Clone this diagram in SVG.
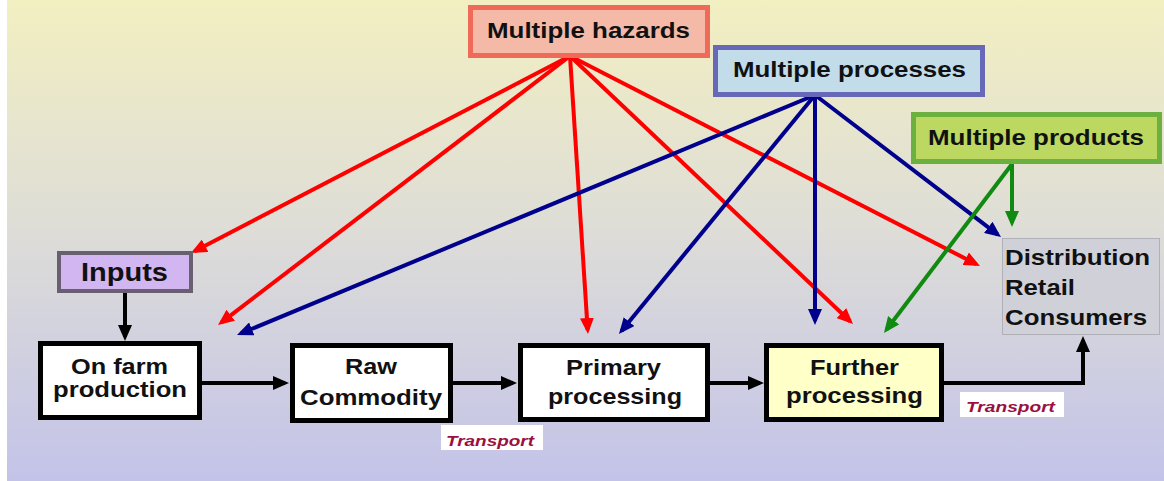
<svg xmlns="http://www.w3.org/2000/svg" width="1164" height="481" viewBox="0 0 1164 481">
  <defs>
    <linearGradient id="bg" x1="0" y1="0" x2="0" y2="1">
      <stop offset="0" stop-color="#f2efc1"/>
      <stop offset="0.45" stop-color="#dfded6"/>
      <stop offset="1" stop-color="#c3c3e9"/>
    </linearGradient>
    <marker id="ah-red" markerUnits="userSpaceOnUse" markerWidth="16" markerHeight="14" refX="12" refY="7" orient="auto">
      <path d="M0,0 L16,7 L0,14 z" fill="#ff0000"/>
    </marker>
    <marker id="ah-blue" markerUnits="userSpaceOnUse" markerWidth="16" markerHeight="14" refX="12" refY="7" orient="auto">
      <path d="M0,0 L16,7 L0,14 z" fill="#00008c"/>
    </marker>
    <marker id="ah-green" markerUnits="userSpaceOnUse" markerWidth="16" markerHeight="14" refX="12" refY="7" orient="auto">
      <path d="M0,0 L16,7 L0,14 z" fill="#108a10"/>
    </marker>
    <marker id="ah-black" markerUnits="userSpaceOnUse" markerWidth="16" markerHeight="14" refX="12" refY="7" orient="auto">
      <path d="M0,0 L16,7 L0,14 z" fill="#000000"/>
    </marker>
  </defs>
  <style>
    text { font-family: "Liberation Sans", Arial, sans-serif; font-weight: bold; fill: #111111; }
    .lbl { font-size: 22px; }
    .step { fill: #ffffff; stroke: #000000; stroke-width: 5; }
    .red { stroke: #ff0000; stroke-width: 4; fill: none; marker-end: url(#ah-red); }
    .blue { stroke: #00008c; stroke-width: 4; fill: none; marker-end: url(#ah-blue); }
    .green { stroke: #108a10; stroke-width: 4; fill: none; marker-end: url(#ah-green); }
    .flow { stroke: #000000; stroke-width: 4; fill: none; marker-end: url(#ah-black); }
    .transport { font-size: 15px; font-style: italic; fill: #9a1040; }
  </style>

  <!-- backdrop -->
  <rect x="0" y="0" width="1164" height="481" fill="#ffffff"/>
  <rect x="7" y="0" width="1157" height="481" fill="url(#bg)"/>

  <!-- connectors -->
  <g id="connectors">
    <!-- hazards -->
    <line class="red" x1="570" y1="56" x2="194.5" y2="251.2"/>
    <line class="red" x1="570" y1="56" x2="221.2" y2="322.6"/>
    <line class="red" x1="570" y1="56" x2="587.7" y2="330"/>
    <line class="red" x1="570" y1="56" x2="850.1" y2="321.3"/>
    <line class="red" x1="570" y1="56" x2="976.4" y2="264.2"/>
    <!-- processes -->
    <line class="blue" x1="815" y1="95" x2="240.7" y2="333.5"/>
    <line class="blue" x1="815" y1="95" x2="621.5" y2="330.9"/>
    <line class="blue" x1="815" y1="95" x2="815" y2="321"/>
    <line class="blue" x1="815" y1="95" x2="997.8" y2="234.6"/>
    <!-- products -->
    <line class="green" x1="1012" y1="164" x2="1012" y2="223"/>
    <line class="green" x1="1012" y1="164" x2="886.4" y2="329.8"/>
    <!-- chain -->
    <line class="flow" x1="125" y1="293" x2="125" y2="337"/>
    <line class="flow" x1="202" y1="383" x2="285" y2="383"/>
    <line class="flow" x1="453" y1="383" x2="513" y2="383"/>
    <line class="flow" x1="710" y1="383" x2="760" y2="383"/>
    <polyline class="flow" points="944,383 1083,383 1083,340"/>
  </g>

  <g id="hazards">
    <rect x="470.5" y="7.5" width="237" height="48" fill="#f5b9a8" stroke="#f06a5a" stroke-width="5"/>
    <text class="lbl" x="487" y="38" textLength="203" lengthAdjust="spacingAndGlyphs">Multiple hazards</text>
  </g>
  <g id="processes">
    <rect x="715.5" y="47.5" width="267" height="47" fill="#c2dcea" stroke="#6868b8" stroke-width="5"/>
    <text class="lbl" x="733" y="77" textLength="233" lengthAdjust="spacingAndGlyphs">Multiple processes</text>
  </g>
  <g id="products">
    <rect x="913.5" y="114.5" width="246" height="47" fill="#bcd860" stroke="#6cb040" stroke-width="5"/>
    <text class="lbl" x="928" y="145" textLength="216" lengthAdjust="spacingAndGlyphs">Multiple products</text>
  </g>
  <g id="inputs">
    <rect x="59" y="253" width="132" height="38" fill="#d2b6f2" stroke="#686070" stroke-width="4"/>
    <text x="81" y="281" font-size="26" textLength="87" lengthAdjust="spacingAndGlyphs">Inputs</text>
  </g>
  <g id="on-farm">
    <rect class="step" x="40.5" y="343.5" width="159" height="74"/>
    <text class="lbl" x="71" y="374" textLength="97" lengthAdjust="spacingAndGlyphs">On farm</text>
    <text class="lbl" x="53" y="397" textLength="134" lengthAdjust="spacingAndGlyphs">production</text>
  </g>
  <g id="raw-commodity">
    <rect class="step" x="292.5" y="345.5" width="158" height="75"/>
    <text class="lbl" x="345" y="374" textLength="52" lengthAdjust="spacingAndGlyphs">Raw</text>
    <text class="lbl" x="300" y="405" textLength="142" lengthAdjust="spacingAndGlyphs">Commodity</text>
  </g>
  <g id="primary">
    <rect class="step" x="520.5" y="345.5" width="187" height="74"/>
    <text class="lbl" x="566" y="375" textLength="95" lengthAdjust="spacingAndGlyphs">Primary</text>
    <text class="lbl" x="548" y="404" textLength="134" lengthAdjust="spacingAndGlyphs">processing</text>
  </g>
  <g id="further">
    <rect class="step" x="766.5" y="345.5" width="175" height="74" style="fill:#ffffc8"/>
    <text class="lbl" x="810" y="375" textLength="89" lengthAdjust="spacingAndGlyphs">Further</text>
    <text class="lbl" x="786" y="403" textLength="137" lengthAdjust="spacingAndGlyphs">processing</text>
  </g>
  <g id="distribution">
    <rect x="1002.5" y="238.5" width="157" height="96" fill="#d0d0d8" stroke="#b0b0b8" stroke-width="1"/>
    <text class="lbl" x="1005" y="265" textLength="145" lengthAdjust="spacingAndGlyphs">Distribution</text>
    <text class="lbl" x="1005" y="295" textLength="70" lengthAdjust="spacingAndGlyphs">Retail</text>
    <text class="lbl" x="1005" y="325" textLength="142" lengthAdjust="spacingAndGlyphs">Consumers</text>
  </g>
  <g id="transport-1">
    <rect x="441" y="425" width="102" height="25" fill="#ffffff"/>
    <text class="transport" x="446" y="446" textLength="88" lengthAdjust="spacingAndGlyphs">Transport</text>
  </g>
  <g id="transport-2">
    <rect x="960" y="392" width="104" height="25" fill="#ffffff"/>
    <text class="transport" x="966" y="412" textLength="89" lengthAdjust="spacingAndGlyphs">Transport</text>
  </g>
</svg>
